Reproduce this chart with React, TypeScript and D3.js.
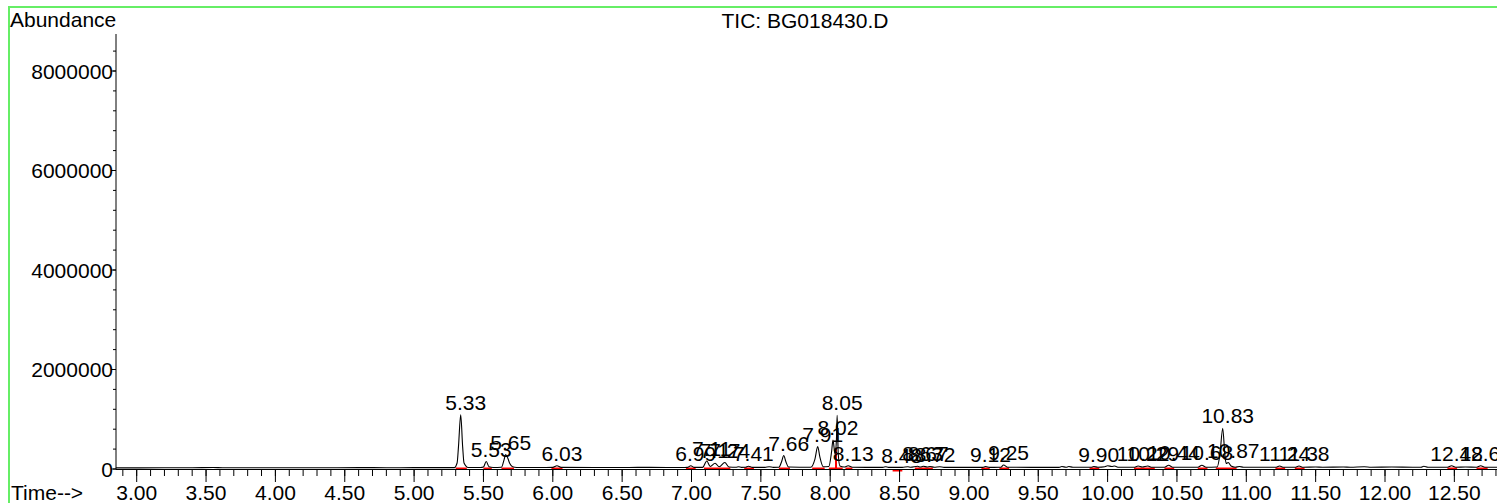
import React from "react";
import * as d3 from "d3";

// ---- data ----
const title = "TIC: BG018430.D";
const yAxisTitle = "Abundance";
const xAxisTitle = "Time-->";

const yMajorTicks = [0, 2000000, 4000000, 6000000, 8000000];
const xMajorTicks = [3.0, 3.5, 4.0, 4.5, 5.0, 5.5, 6.0, 6.5, 7.0, 7.5, 8.0, 8.5, 9.0, 9.5, 10.0, 10.5, 11.0, 11.5, 12.0, 12.5];

// chromatogram trace: [time (min), abundance]
const trace: [number, number][] = [
  [2.85, 22000], [3.2, 24000], [3.4, 25000], [3.55, 30000], [3.62, 25000], [3.9, 26000], [4.3, 25000],
  [4.6, 28000], [4.8, 26000], [5.0, 27000], [5.25, 28000],
  [5.29, 28000], [5.31, 120000], [5.32, 450000], [5.336, 1090000], [5.35, 450000], [5.36, 120000], [5.39, 30000],
  [5.48, 30000], [5.5, 40000], [5.52, 150000], [5.54, 45000], [5.57, 30000],
  [5.63, 35000], [5.65, 200000], [5.66, 290000], [5.675, 220000], [5.69, 110000], [5.71, 45000], [5.74, 30000],
  [5.95, 30000], [6.0, 32000], [6.03, 65000], [6.06, 32000],
  [6.3, 30000], [6.5, 30000], [6.7, 33000], [6.95, 30000],
  [6.97, 32000], [6.995, 65000], [7.02, 32000],
  [7.08, 32000], [7.11, 160000], [7.135, 50000], [7.17, 115000], [7.2, 45000], [7.24, 130000], [7.27, 40000],
  [7.32, 35000], [7.34, 45000], [7.36, 32000], [7.39, 35000], [7.41, 55000], [7.44, 33000],
  [7.53, 33000], [7.56, 45000], [7.59, 33000],
  [7.63, 35000], [7.65, 150000], [7.665, 270000], [7.68, 150000], [7.7, 40000],
  [7.86, 35000], [7.89, 200000], [7.91, 450000], [7.925, 250000], [7.95, 45000],
  [7.99, 50000], [8.01, 350000], [8.02, 580000], [8.035, 300000], [8.045, 600000], [8.05, 1080000], [8.058, 300000], [8.07, 60000],
  [8.1, 40000], [8.13, 65000], [8.16, 35000],
  [8.38, 33000], [8.4, 45000], [8.42, 33000], [8.52, 33000], [8.56, 45000], [8.58, 35000],
  [8.63, 55000], [8.65, 40000], [8.67, 55000], [8.7, 40000], [8.72, 50000], [8.75, 35000], [8.79, 45000], [8.82, 33000],
  [9.1, 33000], [9.12, 50000], [9.15, 33000], [9.23, 35000], [9.25, 80000], [9.28, 35000],
  [9.65, 33000], [9.67, 50000], [9.7, 35000], [9.72, 50000], [9.75, 35000],
  [9.88, 35000], [9.9, 50000], [9.93, 35000], [9.98, 45000], [10.0, 65000], [10.03, 50000], [10.05, 60000], [10.08, 35000],
  [10.19, 35000], [10.22, 60000], [10.25, 40000], [10.29, 60000], [10.32, 35000],
  [10.41, 35000], [10.44, 75000], [10.47, 35000], [10.65, 35000], [10.68, 75000], [10.71, 35000],
  [10.79, 40000], [10.81, 300000], [10.83, 820000], [10.845, 300000], [10.855, 110000], [10.87, 130000], [10.89, 60000], [10.92, 35000],
  [10.95, 50000], [10.98, 35000],
  [11.21, 35000], [11.24, 60000], [11.27, 35000], [11.35, 35000], [11.38, 60000], [11.41, 35000],
  [11.5, 40000], [11.55, 35000], [11.7, 40000], [11.75, 35000], [11.85, 45000], [11.9, 35000],
  [12.05, 40000], [12.2, 35000], [12.26, 35000], [12.28, 55000], [12.31, 35000],
  [12.45, 35000], [12.48, 65000], [12.51, 35000], [12.58, 40000], [12.66, 35000], [12.69, 65000], [12.72, 35000], [12.9, 35000],
];

// peak labels: text, retention time, apex abundance
const peakLabels = ["5.33", "5.53", "5.65", "6.03", "6.99", "7.11", "7.17", "7.24", "7.41", "7.66", "7.91", "8.02", "8.05", "8.13", "8.48", "8.63", "8.67", "8.72", "9.12", "9.25", "9.90", "10.22", "10.29", "10.44", "10.68", "10.83", "10.87", "11.24", "11.38", "12.48", "12.69"];
const peakTimes = [5.336, 5.52, 5.66, 6.03, 6.995, 7.11, 7.17, 7.24, 7.41, 7.665, 7.91, 8.02, 8.05, 8.13, 8.48, 8.63, 8.67, 8.72, 9.12, 9.25, 9.9, 10.22, 10.29, 10.44, 10.68, 10.83, 10.87, 11.24, 11.38, 12.48, 12.69];
const peakHeights = [1090000, 150000, 290000, 65000, 65000, 160000, 115000, 130000, 55000, 270000, 450000, 580000, 1080000, 65000, 30000, 55000, 55000, 50000, 50000, 80000, 50000, 60000, 60000, 75000, 75000, 820000, 130000, 60000, 60000, 65000, 65000];

// integration baselines (start, end)
const integStart = [5.3, 5.5, 5.63, 5.99, 6.96, 7.09, 7.38, 7.63, 7.87, 7.99, 8.11, 8.61, 9.09, 9.22, 9.87, 10.19, 10.41, 10.65, 10.78, 11.21, 11.35, 12.45, 12.66];
const integEnd = [5.38, 5.56, 5.72, 6.07, 7.03, 7.28, 7.45, 7.71, 7.96, 8.09, 8.16, 8.74, 9.15, 9.29, 9.94, 10.34, 10.48, 10.72, 10.93, 11.28, 11.42, 12.52, 12.74];
const lowIntegStart = [8.45];
const lowIntegEnd = [8.52];
const dropLineTimes = [8.042];
const dropLineHeights = [420000];

export default function App() {
  const W = 1497;
  const H = 503;
  const x = d3.scaleLinear().domain([3, 12.5]).range([136.7, 1454.35]);
  const y = d3.scaleLinear().domain([0, 8000000]).range([469, 71]);
  const yTop = 34;
  const xLeft = 116;
  const font = "'Liberation Sans', Arial, sans-serif";
  const fs = 21;

  const line = d3
    .line<[number, number]>()
    .x((d) => x(d[0]))
    .y((d) => y(d[1]))
    .curve(d3.curveMonotoneX);

  const xMinor = d3.range(29, 129).map((i) => i / 10);
  const yMinor = d3.range(0, 22).map((i) => i * 400000).filter((v) => y(v) >= yTop);

  return (
    <svg
      width={W}
      height={H}
      style={{ position: "absolute", left: 0, top: 0, background: "#fff" }}
      fontFamily={font}
    >
      <rect x={0} y={0} width={W} height={H} fill="#fff" />
      {/* frame */}
      <rect x={9} y={7} width={W + 20} height={H + 20} fill="none" stroke="#66ee66" strokeWidth={2} />

      <text x={805} y={28} fontSize={fs} textAnchor="middle" fill="#000">{title}</text>
      <text x={10} y={26.5} fontSize={fs} fill="#000">{yAxisTitle}</text>
      <text x={11} y={500} fontSize={fs} fill="#000">{xAxisTitle}</text>

      {/* integration marks */}
      {integStart.map((s, i) => (
        <line key={"ig" + i} x1={x(s)} x2={x(integEnd[i])} y1={468.5} y2={468.5} stroke="#ff0000" strokeWidth={2} />
      ))}
      {lowIntegStart.map((s, i) => (
        <line key={"lg" + i} x1={x(s)} x2={x(lowIntegEnd[i])} y1={470.5} y2={470.5} stroke="#ff0000" strokeWidth={2} />
      ))}
      {dropLineTimes.map((t, i) => (
        <line key={"dl" + i} x1={x(t)} x2={x(t)} y1={y(0)} y2={y(dropLineHeights[i])} stroke="#ff0000" strokeWidth={2} />
      ))}

      {/* trace */}
      <path d={line(trace) || ""} fill="none" stroke="#000" strokeWidth={1.1} />

      {/* axes */}
      <line x1={xLeft} x2={xLeft} y1={yTop} y2={469.5} stroke="#000" strokeWidth={1} />
      <line x1={xLeft} x2={W} y1={469.5} y2={469.5} stroke="#000" strokeWidth={1} />
      {yMinor.map((v) => (
        <line key={"ym" + v} x1={xLeft - 3} x2={xLeft} y1={y(v)} y2={y(v)} stroke="#000" strokeWidth={1} />
      ))}
      {yMajorTicks.map((v) => (
        <g key={"yM" + v}>
          <line x1={xLeft - 5} x2={xLeft} y1={y(v)} y2={y(v)} stroke="#000" strokeWidth={1} />
          <text x={xLeft - 3} y={y(v)} dy="0.36em" fontSize={fs} textAnchor="end" fill="#000">{String(v)}</text>
        </g>
      ))}
      {xMinor.map((t) => (
        <line key={"xm" + t} x1={x(t)} x2={x(t)} y1={469.5} y2={476} stroke="#000" strokeWidth={1} />
      ))}
      {xMajorTicks.map((t) => (
        <g key={"xM" + t}>
          <line x1={x(t)} x2={x(t)} y1={469.5} y2={482} stroke="#000" strokeWidth={1} />
          <text x={x(t)} y={500} fontSize={fs} textAnchor="middle" fill="#000">{t.toFixed(2)}</text>
        </g>
      ))}

      {/* peak labels */}
      {peakLabels.map((lab, i) => (
        <text key={"pl" + i} x={x(peakTimes[i]) + 5} y={y(peakHeights[i]) - 5} fontSize={fs} textAnchor="middle" fill="#000">{lab}</text>
      ))}
    </svg>
  );
}
